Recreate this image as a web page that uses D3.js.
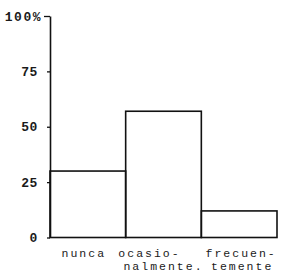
<!DOCTYPE html>
<html>
<head>
<meta charset="utf-8">
<script src="https://cdn.jsdelivr.net/npm/d3@7"></script>
<style>
  body { margin: 0; background: #fff; }
  svg { display: block; }
  text { font-family: "Liberation Mono", "DejaVu Sans Mono", monospace; fill: #1a1a1a; }
</style>
</head>
<body>
<div id="chart"></div>
<script>
// categories and values (percent)
const categories = ["nunca", "ocasionalmente", "frecuentemente"];
const labelLines = [["nunca"], ["ocasio-", "nalmente."], ["frecuen-", "temente"]];
const values = [30, 57, 12];
const yTicks = [0, 25, 50, 75, 100];

const width = 283,
    height = 274;

const svg = d3.select("#chart").append("svg")
    .attr("width", width)
    .attr("height", height);

// scales
const x = d3.scaleBand()
    .domain(categories)
    .range([50, 277])
    .padding(0);

const y = d3.scaleLinear()
    .domain([0, 100])
    .range([237.5, 16]);

// y axis
const yAxis = svg.append("g")
    .attr("transform", "translate(50,0)")
    .call(d3.axisLeft(y)
        .tickValues(yTicks)
        .tickSize(3)
        .tickSizeOuter(0)
        .tickPadding(9)
        .tickFormat(d => d === 100 ? "100%" : d));

yAxis.select(".domain")
    .attr("stroke", "#111")
    .attr("stroke-width", 1.6);

yAxis.selectAll(".tick line")
    .attr("stroke", "#111")
    .attr("stroke-width", 1.3);

yAxis.selectAll(".tick text")
    .attr("font-size", 13)
    .attr("font-weight", "bold")
    .attr("letter-spacing", 0.6)
    .attr("fill", "#1a1a1a");

// top tick is longer, label sits close to it
yAxis.selectAll(".tick")
    .filter(d => d === 100)
    .each(function () {
        d3.select(this).select("line").attr("x2", -6);
        d3.select(this).select("text").attr("x", -8).attr("letter-spacing", 1.5);
    });

// bars
svg.selectAll(".bar")
    .data(values)
    .enter().append("rect")
    .attr("class", "bar")
    .attr("x", (d, i) => x(categories[i]))
    .attr("y", d => y(d))
    .attr("width", x.bandwidth())
    .attr("height", d => y(0) - y(d))
    .attr("fill", "none")
    .attr("stroke", "#111")
    .attr("stroke-width", 1.6);

// category labels (typed, hyphenated over two lines)
// small shifts per line, the typed labels are not exactly centred
const lineShift = [[-4], [-14, 0], [2, 3]];
const labels = svg.selectAll(".cat-label")
    .data(labelLines)
    .enter().append("g")
    .attr("class", "cat-label");

labels.each(function (lines, i) {
    const cx = x(categories[i]) + x.bandwidth() / 2;
    d3.select(this).selectAll("text")
        .data(lines)
        .enter().append("text")
        .attr("font-size", 11.5)
        .attr("letter-spacing", 2)
        .attr("text-anchor", "middle")
        .attr("x", (d, j) => cx + lineShift[i][j])
        .attr("y", (d, j) => 257 + j * 13)
        .text(d => d);
});
</script>
</body>
</html>
